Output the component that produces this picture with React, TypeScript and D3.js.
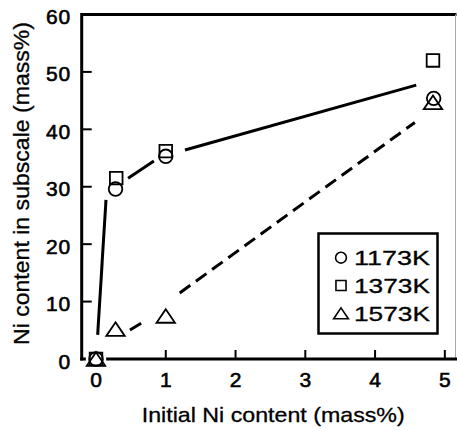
import React, { useRef, useEffect } from 'react';
import * as d3 from 'd3';

const xTicks = [0, 1, 2, 3, 4, 5];
const yTicks = [0, 10, 20, 30, 40, 50, 60];

const pts1173 = [[0, 0], [0.28, 29.6], [1, 35.3], [4.84, 45.4]];
const pts1373 = [[0, 0], [0.29, 31.5], [1, 36.2], [4.83, 52.0]];
const pts1573 = [[0, 0], [0.28, 5.2], [1, 7.5], [4.83, 44.7]];

// visible pieces of the fitted curves (gaps where the markers are)
const solidPieces = [
  [[0.024, 4.2], [0.143, 27.7]],
  [[0.46, 31.5], [0.83, 34.5]],
  [[1.275, 36.4], [4.59, 47.7]],
];
const dashedPieces = [
  [[0.487, 5.05], [0.726, 6.8]],
  [[1.2, 11.5], [4.57, 41.2]],
];

const legendLabels = ['1173K', '1373K', '1573K'];
const symbols = ['circle', 'square', 'triangle'];

const W = 457;
const H = 430;
const FONT = '"Liberation Sans", Arial, Helvetica, sans-serif';

const markerPath = (kind: string, s: number) => {
  if (kind === 'circle') {
    const r = 6.8 * s;
    return `M${-r},0a${r},${r} 0 1,0 ${2 * r},0a${r},${r} 0 1,0 ${-2 * r},0Z`;
  }
  if (kind === 'square') {
    const h = 6.3 * s;
    return `M${-h},${-h}H${h}V${h}H${-h}Z`;
  }
  const hw = 9.2 * s;
  const hh = 6.8 * s;
  return `M0,${-hh}L${hw},${hh}L${-hw},${hh}Z`;
};

const App = () => {
  const svgRef = useRef<SVGSVGElement>(null);

  useEffect(() => {
    const svg = d3.select(svgRef.current);
    svg.selectAll('*').remove();

    const x = d3.scaleLinear().domain([-0.205, 5.16]).range([81.7, 456]);
    const y = d3.scaleLinear().domain([0, 60]).range([359, 14.5]);

    const g = svg.append('g');

    // frame
    g.append('line')
      .attr('x1', x(-0.205)).attr('x2', 456.5)
      .attr('y1', y(60)).attr('y2', y(60))
      .attr('stroke', '#000').attr('stroke-width', 3);
    g.append('line')
      .attr('x1', 455.5).attr('x2', 455.5)
      .attr('y1', y(60)).attr('y2', y(0))
      .attr('stroke', '#aaa').attr('stroke-width', 1);
    g.append('line')
      .attr('x1', x(-0.205)).attr('x2', x(-0.205))
      .attr('y1', y(60) - 1.5).attr('y2', y(0) + 1.5)
      .attr('stroke', '#000').attr('stroke-width', 3);
    g.append('line')
      .attr('x1', x(-0.205) - 1.5).attr('x2', 457)
      .attr('y1', y(0)).attr('y2', y(0))
      .attr('stroke', '#000').attr('stroke-width', 3);

    // y ticks (inward)
    g.selectAll('.ytick')
      .data(yTicks.filter((d) => d > 0 && d < 60))
      .enter()
      .append('line')
      .attr('x1', x(-0.205)).attr('x2', x(-0.205) + 10)
      .attr('y1', (d) => y(d)).attr('y2', (d) => y(d))
      .attr('stroke', '#000').attr('stroke-width', 2);

    g.selectAll('.ylab')
      .data(yTicks)
      .enter()
      .append('text')
      .attr('x', 71)
      .attr('y', (d) => y(d) + 9.5)
      .attr('text-anchor', 'end')
      .attr('font-family', FONT)
      .attr('font-size', 21)
      .attr('letter-spacing', 0.8)
      .attr('stroke', '#000').attr('stroke-width', 0.6)
      .text((d) => d);

    // x ticks (inward)
    g.selectAll('.xtick')
      .data(xTicks.filter((d) => d > 0))
      .enter()
      .append('line')
      .attr('x1', (d) => x(d)).attr('x2', (d) => x(d))
      .attr('y1', y(0)).attr('y2', y(0) - 9)
      .attr('stroke', '#000').attr('stroke-width', 2);

    g.selectAll('.xlab')
      .data(xTicks)
      .enter()
      .append('text')
      .attr('x', (d) => x(d))
      .attr('y', 387)
      .attr('text-anchor', 'middle')
      .attr('font-family', FONT)
      .attr('font-size', 21)
      .attr('stroke', '#000').attr('stroke-width', 0.6)
      .text((d) => d);

    // axis titles
    g.append('text')
      .attr('x', 141.7).attr('y', 421.7)
      .attr('font-family', FONT).attr('font-size', 21)
      .attr('stroke', '#000').attr('stroke-width', 0.3)
      .attr('textLength', 263).attr('lengthAdjust', 'spacingAndGlyphs')
      .text('Initial Ni content (mass%)');

    g.append('text')
      .attr('transform', 'translate(28.5,345) rotate(-90)')
      .attr('font-family', FONT).attr('font-size', 22)
      .attr('stroke', '#000').attr('stroke-width', 0.3)
      .attr('textLength', 323).attr('lengthAdjust', 'spacingAndGlyphs')
      .text('Ni content in subscale (mass%)');

    // fitted curves
    const line = d3.line<number[]>().x((d) => x(d[0])).y((d) => y(d[1]));
    g.selectAll('.solid')
      .data(solidPieces)
      .enter()
      .append('path')
      .attr('d', line)
      .attr('fill', 'none').attr('stroke', '#000').attr('stroke-width', 3);
    g.selectAll('.dashed')
      .data(dashedPieces)
      .enter()
      .append('path')
      .attr('d', line)
      .attr('fill', 'none').attr('stroke', '#000').attr('stroke-width', 3)
      .attr('stroke-dasharray', '13,7');

    // markers
    const series = [pts1173, pts1373, pts1573];
    series.forEach((pts, i) => {
      const m = g.append('g');
      m.selectAll('.halo')
        .data(pts)
        .enter()
        .append('path')
        .attr('d', markerPath(symbols[i], 1))
        .attr('transform', (d) => `translate(${x(d[0])},${y(d[1])})`)
        .attr('fill', '#fff').attr('stroke', '#fff').attr('stroke-width', 7);
    });
    series.forEach((pts, i) => {
      g.append('g')
        .selectAll('path')
        .data(pts)
        .enter()
        .append('path')
        .attr('d', markerPath(symbols[i], 1))
        .attr('transform', (d) => `translate(${x(d[0])},${y(d[1])})`)
        .attr('fill', 'none').attr('stroke', '#000').attr('stroke-width', 1.8);
    });

    // legend
    const lg = g.append('g');
    lg.append('rect')
      .attr('x', 318.5).attr('y', 233.5)
      .attr('width', 119).attr('height', 100)
      .attr('fill', '#fff').attr('stroke', '#000').attr('stroke-width', 2.5);
    legendLabels.forEach((lab, i) => {
      const cy = 257.7 + i * 27.8;
      lg.append('path')
        .attr('d', markerPath(symbols[i], 0.8))
        .attr('transform', `translate(341,${cy})`)
        .attr('fill', 'none').attr('stroke', '#000').attr('stroke-width', 1.6);
      lg.append('text')
        .attr('x', 354).attr('y', cy + 7.5)
        .attr('font-family', FONT).attr('font-size', 21)
        .attr('stroke', '#000').attr('stroke-width', 0.3)
        .attr('textLength', 76).attr('lengthAdjust', 'spacingAndGlyphs')
        .text(lab);
    });
  }, []);

  return (
    <svg
      ref={svgRef}
      width={W}
      height={H}
      style={{ position: 'absolute', left: 0, top: 0, background: '#fff' }}
    ></svg>
  );
};

export default App;
